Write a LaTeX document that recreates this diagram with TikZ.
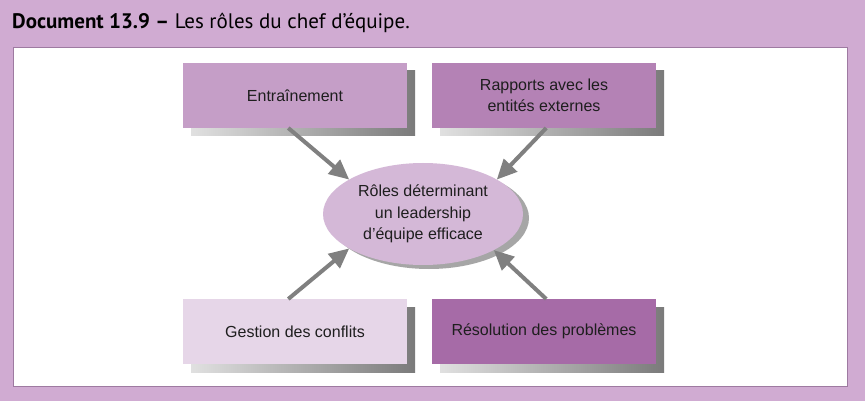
\documentclass[tikz,border=0pt]{standalone}
\usepackage{fontspec}
\setmainfont{Liberation Sans}
\newfontfamily\titlefont{PT Sans}
\usetikzlibrary{arrows.meta,shapes.geometric,shadows,calc}
\definecolor{bgc}{RGB}{208,171,210}
\definecolor{panelline}{RGB}{158,122,161}
\definecolor{cEnt}{RGB}{197,158,199}
\definecolor{cRap}{RGB}{180,130,181}
\definecolor{cGes}{RGB}{230,214,232}
\definecolor{cRes}{RGB}{166,107,167}
\definecolor{cEll}{RGB}{212,184,215}
\definecolor{arrc}{RGB}{128,128,128}
\definecolor{txt}{RGB}{30,30,30}
\tikzset{
  rolebox/.style={rectangle, draw=none, inner sep=0pt, outer sep=0pt,
    minimum width=224pt, minimum height=65pt, align=center, text=txt,
    font=\fontsize{16}{21}\selectfont,
    general shadow={shadow xshift=8pt, shadow yshift=-8pt, left color=black!12, right color=black!52}},
  roleell/.style={ellipse, draw=none, inner sep=0pt, outer sep=0pt,
    minimum width=200pt, minimum height=102pt, align=center, text=txt, fill=cEll,
    font=\fontsize{16}{21.5}\selectfont,
    general shadow={shadow xshift=6pt, shadow yshift=-4pt, fill=black!35}},
  rolearrow/.style={draw=arrc, line width=4pt, -{Triangle[length=20pt,width=18pt]}}
}
\begin{document}
\begin{tikzpicture}[x=1pt,y=-1pt]
\useasboundingbox (0,0) rectangle (865,401);
\fill[bgc] (0,0) rectangle (865,401);
\node[anchor=base west, inner sep=0pt, text=black, font=\titlefont\fontsize{21}{24}\selectfont] (title) at (12,29) {\textbf{Document 13.9 –} Les rôles du chef d’équipe.};
\draw[fill=white, draw=panelline, line width=1.5pt] (13.5,47.5) rectangle (847.5,386.5);
\node[rolebox, fill=cEnt] (ent) at (295,95.5) {Entraînement};
\node[rolebox, fill=cRap] (rap) at (544,95.5) {Rapports avec les\\entités externes};
\node[rolebox, fill=cGes] (ges) at (295,331.5) {Gestion des conflits};
\node[rolebox, fill=cRes] (res) at (544,331.5) {Résolution des problèmes};
\node[roleell] (ell) at (423,214) {Rôles déterminant\\un leadership\\d’équipe efficace};
\draw[rolearrow] ($(ent.south west)!0.47!(ent.south east)$) -- (ell.155);
\draw[rolearrow] ($(rap.south west)!0.51!(rap.south east)$) -- (ell.25);
\draw[rolearrow] ($(ges.north west)!0.47!(ges.north east)$) -- (ell.205);
\draw[rolearrow] ($(res.north west)!0.51!(res.north east)$) -- (ell.333);
\end{tikzpicture}
\end{document}
